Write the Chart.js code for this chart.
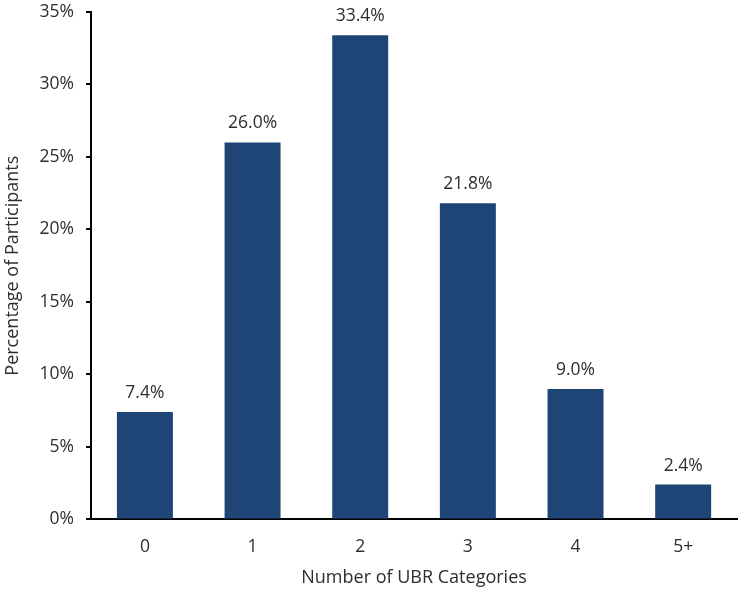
<!DOCTYPE html>
<html>
<head>
<meta charset="utf-8">
<script src="https://cdn.jsdelivr.net/npm/chart.js@4"></script>
<style>
  html, body { margin: 0; padding: 0; background: #fff; }
  #wrap { width: 738px; height: 592px; }
</style>
</head>
<body>
<div id="wrap"><canvas id="ubrChart"></canvas></div>
<script>
const categories = ['0', '1', '2', '3', '4', '5+'];
const percentages = [7.4, 26.0, 33.4, 21.8, 9.0, 2.4];

const textColor = '#2e2e2e';
const fontFamily = '"Open Sans", "Noto Sans", sans-serif';

// draws the value above each bar
const barLabels = {
  id: 'barLabels',
  afterDatasetsDraw(chart) {
    const ctx = chart.ctx;
    const meta = chart.getDatasetMeta(0);
    ctx.save();
    ctx.font = '17.5px ' + fontFamily;
    ctx.fillStyle = textColor;
    ctx.textAlign = 'center';
    ctx.textBaseline = 'middle';
    meta.data.forEach(function (bar, i) {
      ctx.fillText(percentages[i].toFixed(1) + '%', bar.x, bar.y - 19);
    });
    ctx.restore();
  }
};

new Chart(document.getElementById('ubrChart'), {
  type: 'bar',
  data: {
    labels: categories,
    datasets: [{
      data: percentages,
      backgroundColor: '#1f4577',
      borderWidth: 0,
      barPercentage: 0.52,
      categoryPercentage: 1
    }]
  },
  options: {
    responsive: true,
    maintainAspectRatio: false,
    animation: false,
    layout: { padding: { top: 0, right: 1, left: 2, bottom: 3 } },
    plugins: {
      legend: { display: false },
      tooltip: { enabled: false }
    },
    scales: {
      x: {
        grid: { display: false, drawTicks: false },
        border: { color: '#000', width: 2 },
        ticks: { color: textColor, font: { family: fontFamily, size: 17.5 }, padding: 17 },
        title: {
          display: true,
          text: 'Number of UBR Categories',
          color: textColor,
          font: { family: fontFamily, size: 18 },
          padding: { top: -7, bottom: 0 }
        }
      },
      y: {
        min: 0,
        max: 35,
        // only keep room for half of the top tick label
        afterFit: function (scale) { scale.paddingTop = 12; },
        grid: { drawOnChartArea: false, drawTicks: true, tickLength: 5, color: '#000', lineWidth: 2 },
        border: { color: '#000', width: 2 },
        ticks: {
          stepSize: 5,
          color: textColor,
          font: { family: fontFamily, size: 17.5 },
          padding: 12,
          callback: function (v) { return v + '%'; }
        },
        title: {
          display: true,
          text: 'Percentage of Participants',
          color: textColor,
          font: { family: fontFamily, size: 18 },
          padding: { top: 0, bottom: 4 }
        }
      }
    }
  },
  plugins: [barLabels]
});
</script>
</body>
</html>
